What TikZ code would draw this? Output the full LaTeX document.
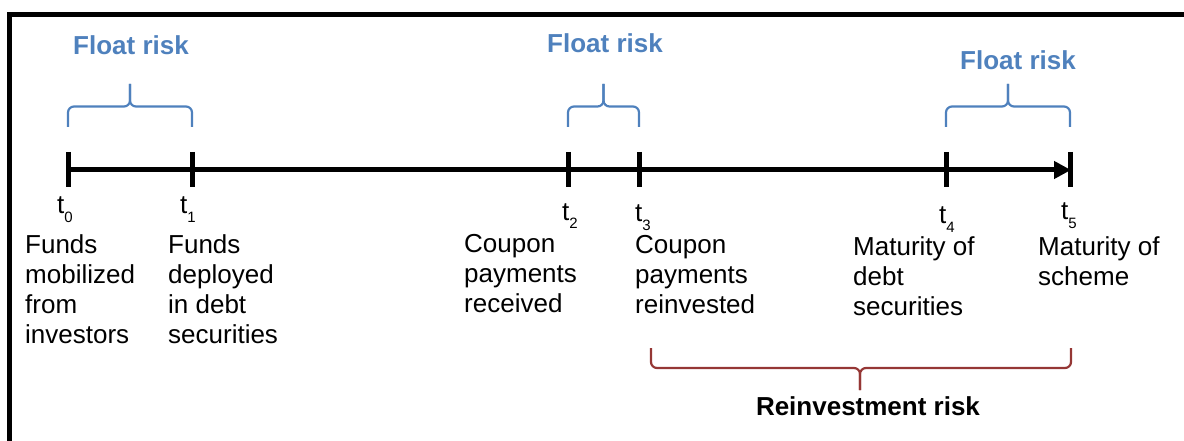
\documentclass[tikz,border=0pt]{standalone}
\usepackage{fontspec}
\setmainfont{Liberation Sans}
\usetikzlibrary{arrows.meta,calc}
\definecolor{floatblue}{HTML}{4F81BD}
\definecolor{reinvred}{HTML}{953735}
\tikzset{
  tick/.style={line width=5pt},
  axis/.style={line width=5pt,-{Triangle[length=17pt,width=17pt]}},
  frame/.style={line width=5pt, line join=miter},
  bracepath/.style={line width=2.2pt, rounded corners=6pt},
  riskblue/.style={font=\fontsize{26}{30}\selectfont\bfseries, text=floatblue, anchor=base, inner sep=0},
  riskred/.style={font=\fontsize{26}{30}\selectfont\bfseries, text=black, anchor=base, inner sep=0},
  desc/.style={font=\fontsize{26}{30}\selectfont, align=left, anchor=north west, inner sep=0},
  tlab/.style={font=\fontsize{26}{26}\selectfont, anchor=base west, inner sep=0},
}
\newcommand{\tsub}[1]{t\raisebox{-9pt}{\fontsize{15}{15}\selectfont #1}}
\begin{document}
\begin{tikzpicture}[x=1pt,y=-1pt]
\useasboundingbox (0,0) rectangle (1184,441);
% frame
\draw[frame] (9.5,441) -- (9.5,14.5) -- (1184,14.5);
% tick points
\coordinate (T0) at (68,170);
\coordinate (T1) at (192,170);
\coordinate (T2) at (568,170);
\coordinate (T3) at (639,170);
\coordinate (T4) at (946,170);
\coordinate (T5) at (1070,170);
% axis
\draw[axis] (T0) -- ([xshift=1pt]T5);
\foreach \p in {T0,T1,T2,T3,T4,T5}
  \draw[tick] ([yshift=18pt]\p) -- ([yshift=-17pt]\p);
% blue braces
\foreach \a/\b in {T0/T1,T2/T3,T4/T5}{
  \draw[bracepath, floatblue]
    ([yshift=43pt]\a) -- ([yshift=63.5pt]\a) -- ($([yshift=63.5pt]\a)!0.5!([yshift=63.5pt]\b)$) -- ($([yshift=86pt]\a)!0.5!([yshift=86pt]\b)$);
  \draw[bracepath, floatblue]
    ([yshift=43pt]\b) -- ([yshift=63.5pt]\b) -- ($([yshift=63.5pt]\a)!0.5!([yshift=63.5pt]\b)$) -- ($([yshift=86pt]\a)!0.5!([yshift=86pt]\b)$);
}
\node[riskblue] (f1) at (131,55) {Float risk};
\node[riskblue] (f2) at (605,53) {Float risk};
\node[riskblue] (f3) at (1018,70) {Float risk};
% t labels
\node[tlab] (l0) at (57,214) {\tsub{0}};
\node[tlab] (l1) at (180,214) {\tsub{1}};
\node[tlab] (l2) at (562,220) {\tsub{2}};
\node[tlab] (l3) at (635,222) {\tsub{3}};
\node[tlab] (l4) at (939,223) {\tsub{4}};
\node[tlab] (l5) at (1061,219) {\tsub{5}};
% descriptions
\node[desc] (d0) at (25,234.5) {Funds\\mobilized\\from\\investors};
\node[desc] (d1) at (168,234.5) {Funds\\deployed\\in debt\\securities};
\node[desc] (d2) at (464,234.5) {Coupon\\payments\\received};
\node[desc] (d3) at (635,235.5) {Coupon\\payments\\reinvested};
\node[desc] (d4) at (853,236.5) {Maturity of\\debt\\securities};
\node[desc] (d5) at (1038,236) {Maturity of\\scheme};
% red brace
\coordinate (R0) at (651,348);
\coordinate (R1) at (1071,348);
\draw[bracepath, reinvred] (R0) -- (651,368) -- (860,368) -- (860,390);
\draw[bracepath, reinvred] (R1) -- (1071,368) -- (860,368) -- (860,390);
\node[riskred] (rr) at (868,415) {Reinvestment risk};
\end{tikzpicture}
\end{document}
